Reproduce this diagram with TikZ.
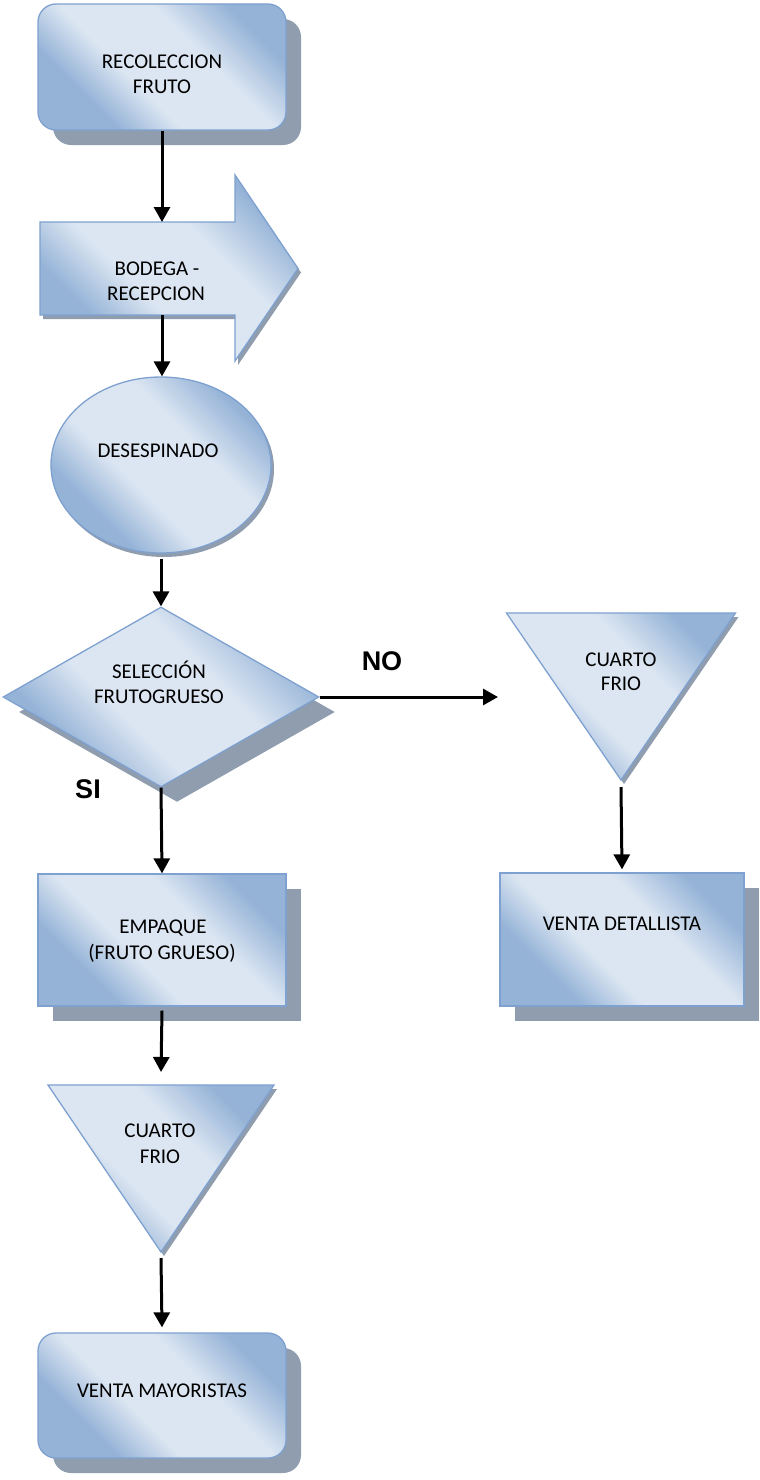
\documentclass[tikz,border=0pt]{standalone}
\usepackage{fontspec}
\setmainfont{Carlito}
\newfontfamily\lblfont{Liberation Sans}
\usetikzlibrary{shapes.geometric,shadows,arrows.meta,calc}
\definecolor{wdark}{HTML}{95B3D7}
\definecolor{wlight}{HTML}{DCE6F2}
\definecolor{bord}{HTML}{7EA1D0}
\definecolor{shd}{HTML}{8F9DAF}
\pgfdeclarehorizontalshading{wordgrad}{100bp}{color(0bp)=(wdark); color(30bp)=(wdark); color(42bp)=(wlight); color(60bp)=(wlight); color(74bp)=(wdark); color(100bp)=(wdark)}
\begin{document}
\begin{tikzpicture}[x=1pt,y=-1pt,
  shp/.style={draw=bord, line width=1.3pt, shading=wordgrad, shading angle=45},
  bigshadow/.style={drop shadow={shadow xshift=15pt, shadow yshift=-15pt, fill=shd, opacity=1}},
  smallshadow/.style={drop shadow={shadow xshift=3pt, shadow yshift=-4pt, fill=shd, opacity=1}},
  box/.style={rectangle, inner sep=0pt, shp},
  ghost/.style={rectangle, inner sep=0pt, outer sep=0pt},
  conn/.style={line width=3pt, -{Triangle[width=16pt,length=15pt]}},
  txt/.style={font=\fontsize{21}{25}\selectfont, inner sep=0pt, anchor=base},
  lbl/.style={font=\lblfont\bfseries\fontsize{27}{30}\selectfont, inner sep=0pt, anchor=base}]
\fill[white] (0,0) rectangle (760,1480);
\useasboundingbox (0,0) rectangle (760,1480);

% left column
\node[box, bigshadow, rounded corners=18pt, minimum width=248pt, minimum height=126pt] (rec) at (162,67) {};
\node[ghost, minimum width=195pt, minimum height=93pt] (bod) at (137.5,268.5) {};
\path[shp, smallshadow] (bod.north west) -- (bod.north east) -- ($(bod.north east)+(0,-47)$)
   -- ($(bod.east)+(63,0)$) -- ($(bod.south east)+(0,46)$) -- (bod.south east) -- (bod.south west) -- cycle;
\node[ellipse, inner sep=0pt, shp, smallshadow, minimum width=220pt, minimum height=176pt] (des) at (161,465) {};
\node[diamond, inner sep=0pt, shp, drop shadow={shadow xshift=16pt, shadow yshift=-15pt, fill=shd, opacity=1}, minimum width=316pt, minimum height=180pt] (sel) at (161,697) {};
\node[box, bigshadow, minimum width=248pt, minimum height=132pt] (emp) at (162,940) {};
\node[ghost, minimum width=226pt, minimum height=167pt] (ct1) at (161,1168.5) {};
\path[shp, smallshadow] (ct1.north west) -- (ct1.north east) -- (ct1.south) -- cycle;
\node[box, bigshadow, rounded corners=18pt, minimum width=248pt, minimum height=125pt] (vm) at (162,1395.5) {};

% right column
\node[ghost, minimum width=229pt, minimum height=167pt] (ct2) at (621,696.5) {};
\path[shp, smallshadow] (ct2.north west) -- (ct2.north east) -- (ct2.south) -- cycle;
\node[box, bigshadow, minimum width=244pt, minimum height=133pt] (vd) at (622,939.5) {};
\coordinate (noend) at (498,697);

% connectors
\draw[conn] (rec.south) -- (rec.south |- bod.north);
\draw[conn] (rec.south |- bod.south) -- (rec.south |- des.north);
\draw[conn] ($(des.south)+(0,5)$) -- (sel.north);
\draw[conn] (sel.south) -- (emp.north);
\draw[conn] ($(emp.south)+(0,4)$) -- ($(ct1.north)+(0,-13)$);
\draw[conn] ($(ct1.south)+(0,6)$) -- ($(vm.north)+(0,-5)$);
\draw[conn] (sel.east) -- (noend);
\draw[conn] ($(ct2.south)+(0,7)$) -- ($(vd.north)+(0,-3)$);

% texts
\node[txt] (t1a) at (162,68) {RECOLECCION};
\node[txt] (t1b) at (162,93) {FRUTO};
\node[txt] (t2a) at (157,275) {BODEGA -};
\node[txt] (t2b) at (156,300) {RECEPCION};
\node[txt] (t3) at (158,457) {DESESPINADO};
\node[txt] (t4a) at (159,678) {SELECCIÓN};
\node[txt] (t4b) at (159,703) {FRUTOGRUESO};
\node[txt] (t5a) at (163,933) {EMPAQUE};
\node[txt] (t5b) at (162,959) {(FRUTO GRUESO)};
\node[txt] (t6a) at (160,1137) {CUARTO};
\node[txt] (t6b) at (160,1163) {FRIO};
\node[txt] (t7) at (162,1397) {VENTA MAYORISTAS};
\node[txt] (t8a) at (621,666) {CUARTO};
\node[txt] (t8b) at (621,690) {FRIO};
\node[txt] (t9) at (622,930) {VENTA DETALLISTA};
\node[lbl] (no) at (382,670) {NO};
\node[lbl] (si) at (88,798) {SI};
\end{tikzpicture}
\end{document}
